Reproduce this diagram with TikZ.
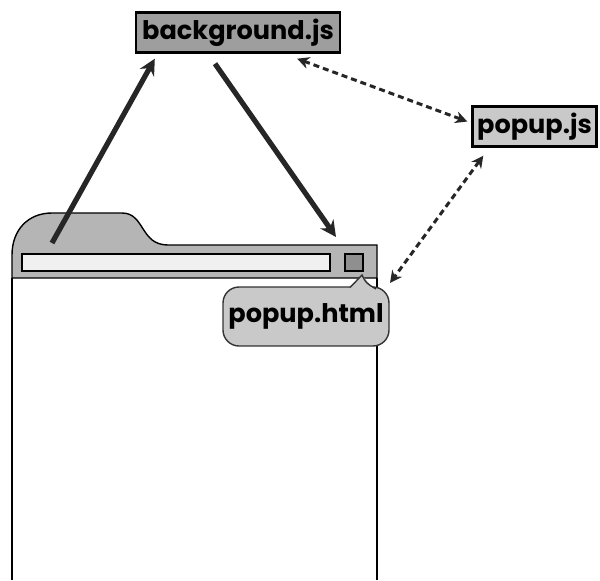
\documentclass[tikz,border=0pt]{standalone}
\usepackage{fontspec}
\setmainfont{Poppins}[BoldFont={* Bold}]
\usetikzlibrary{arrows.meta}

\definecolor{boxdark}{gray}{0.62}
\definecolor{boxlight}{gray}{0.79}
\definecolor{barfill}{gray}{0.71}
\definecolor{addrfill}{gray}{0.94}
\definecolor{btnfill}{gray}{0.56}

\tikzset{
  filebox/.style={draw=black, line width=1.2pt, inner sep=0pt, minimum height=20pt,
    font=\bfseries\fontsize{12.8}{13}\selectfont},
  bigarrow/.style={line width=2.6pt, draw=black!85, -{Stealth[length=8pt,width=8pt]}},
  msgarrow/.style={line width=1.5pt, draw=black!85, dash pattern=on 3pt off 2pt,
    {Stealth[length=6pt,width=6pt]}-{Stealth[length=6pt,width=6pt]}}
}

\begin{document}
\begin{tikzpicture}[x=0.5pt,y=-0.5pt]
\useasboundingbox (0,0) rectangle (600,580);

% browser tab and toolbar
\filldraw[fill=barfill, line width=0.7pt] (12,278) -- (12,255)
  .. controls (12,230) and (28,213) .. (52,213) -- (122,213)
  .. controls (145,213) and (140,245) .. (168,245) -- (377,245) -- (377,278) -- cycle;
\draw[line width=0.7pt] (12,278) -- (12,580);
\draw[line width=0.7pt] (377,278) -- (377,580);
\filldraw[fill=addrfill, line width=0.9pt] (22,254) rectangle (330,271);
\filldraw[fill=btnfill, line width=0.9pt] (345,254) rectangle (363,271);

% file names
\node[filebox, fill=boxdark, minimum width=102pt] (bg) at (238,32.5) {background.js};
\node[filebox, fill=boxlight, minimum width=62pt] (popupjs) at (534.5,126.5) {popup.js};
\node[draw=black!80, line width=0.7pt, fill=boxlight, rounded corners=8pt, inner sep=0pt,
  minimum width=83pt, minimum height=29.5pt, font=\bfseries\fontsize{12.8}{13}\selectfont]
  (popuphtml) at (306,316.5) {popup.html};
% speech bubble pointer up to the button
\fill[boxlight] (350,288) -- (362,275) -- (373,288) -- cycle;
\draw[black!80, line width=0.7pt] (350,287.5) -- (362,275) .. controls (366,283) .. (376,289);

\coordinate (tabl) at (52,243);
\coordinate (tabr) at (336,237);
\coordinate (btn) at (390,283);

\draw[bigarrow] (tabl) -- ([shift={(20,5)}]bg.south west);
\draw[bigarrow] ([shift={(-23,10)}]bg.south) -- (tabr);
\draw[msgarrow] ([shift={(-44,5)}]bg.south east) -- ([shift={(-4,-5)}]popupjs.west);
\draw[msgarrow] ([shift={(12,8)}]popupjs.south west) -- (btn);

\end{tikzpicture}
\end{document}
